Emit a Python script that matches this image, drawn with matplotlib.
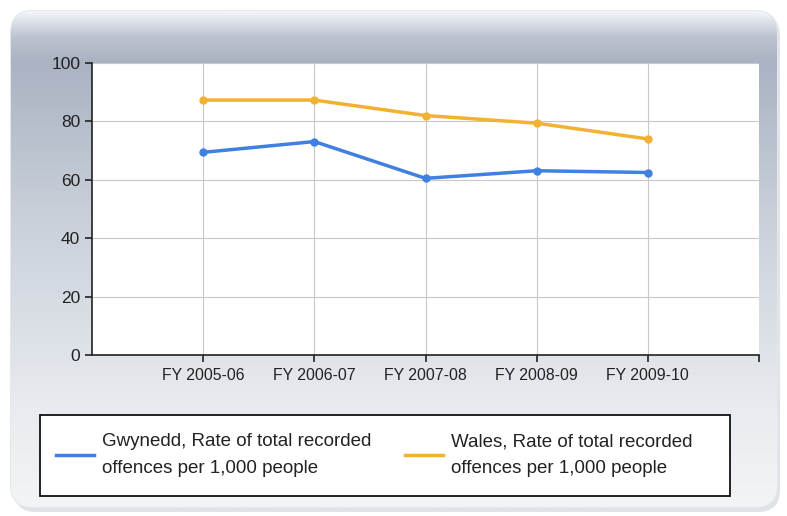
import numpy as np
import matplotlib
matplotlib.use("Agg")
import matplotlib.pyplot as plt
from matplotlib.patches import FancyBboxPatch, Rectangle
from matplotlib.colors import LinearSegmentedColormap

categories = ["FY 2005-06", "FY 2006-07", "FY 2007-08", "FY 2008-09", "FY 2009-10"]
gwynedd = [69.4, 73.1, 60.5, 63.1, 62.5]
wales = [87.3, 87.3, 82.0, 79.4, 74.0]
series_names = ["Gwynedd, Rate of total recorded\noffences per 1,000 people",
                "Wales, Rate of total recorded\noffences per 1,000 people"]
yticks = [0, 20, 40, 60, 80, 100]

plt.rcParams['font.family'] = ["Liberation Sans", 'DejaVu Sans']

W, H = 787, 516
fig = plt.figure(figsize=(W/100, H/100), dpi=100)
fig.patch.set_facecolor("white")

# background panel
bg = fig.add_axes([0, 0, 1, 1], zorder=0)
bg.set_xlim(0, W); bg.set_ylim(H, 0); bg.axis("off")
shadow = FancyBboxPatch((14, 14), 766, 498, boxstyle="round,pad=0,rounding_size=22",
                        fc="#d8dbe0", ec="none", alpha=0.8)
bg.add_patch(shadow)
panel = FancyBboxPatch((11, 11), 766, 496, boxstyle="round,pad=0,rounding_size=22",
                       fc="none", ec="#e4e7ec", lw=1.5)
bg.add_patch(panel)
grad = np.linspace(0, 1, 256)[:, None]
cmap = LinearSegmentedColormap.from_list("g", [(0, "#f3f5f8"), (0.05, "#bcc4d0"), (0.1, "#a9b3c2"),
                                               (0.45, "#ccd3dc"), (0.8, "#e8ebef"), (1, "#f3f4f6")])
im = bg.imshow(grad, extent=(11, 777, 507, 11), cmap=cmap, aspect="auto", zorder=1)
im.set_clip_path(panel)
bg.add_patch(Rectangle((40, 415), 690, 81, fc="white", ec="#111111", lw=1.3, zorder=2))

ax = fig.add_axes([92/W, 1-355/H, (759-92)/W, (355-63)/H], zorder=2)
ax.set_facecolor("white")
x = np.arange(1, len(categories)+1)
ax.plot(x, gwynedd, color="#3f80e0", lw=2.5, marker="o", ms=5, zorder=3)
ax.plot(x, wales, color="#f3b132", lw=2.5, marker="o", ms=5, zorder=3)
ax.set_xlim(0, 6)
ax.set_ylim(0, 100)
ax.set_xticks(x)
ax.set_xticks([6], minor=True)
ax.set_xticklabels(categories, fontsize=11.4, color="#222222")
ax.set_yticks(yticks)
ax.set_yticklabels([str(v) for v in yticks], fontsize=12.5, color="#222222")
ax.tick_params(axis="both", which="both", length=5, width=1.2, color="#222222")
ax.tick_params(axis="x", pad=4)
ax.grid(True, color="#c8c8c8", lw=0.8)
for s in ["top", "right"]:
    ax.spines[s].set_visible(False)
for s in ["left", "bottom"]:
    ax.spines[s].set_linewidth(1.2)
    ax.spines[s].set_color("#222222")

handles = [plt.Line2D([], [], color="#3f80e0", lw=2.5),
           plt.Line2D([], [], color="#f3b132", lw=2.5)]
leg = fig.legend(handles, series_names, loc="center left",
                 bbox_to_anchor=(56/W, 1-455/H),
                 ncol=2, fontsize=13.5, frameon=False, handlelength=2.0,
                 handletextpad=0.43, borderaxespad=0, borderpad=0, columnspacing=1.84)
leg.set_zorder(3)
for t in leg.get_texts():
    t.set_color("#222222")
    t.set_linespacing(1.7)

fig.savefig("out.png", dpi=100)
